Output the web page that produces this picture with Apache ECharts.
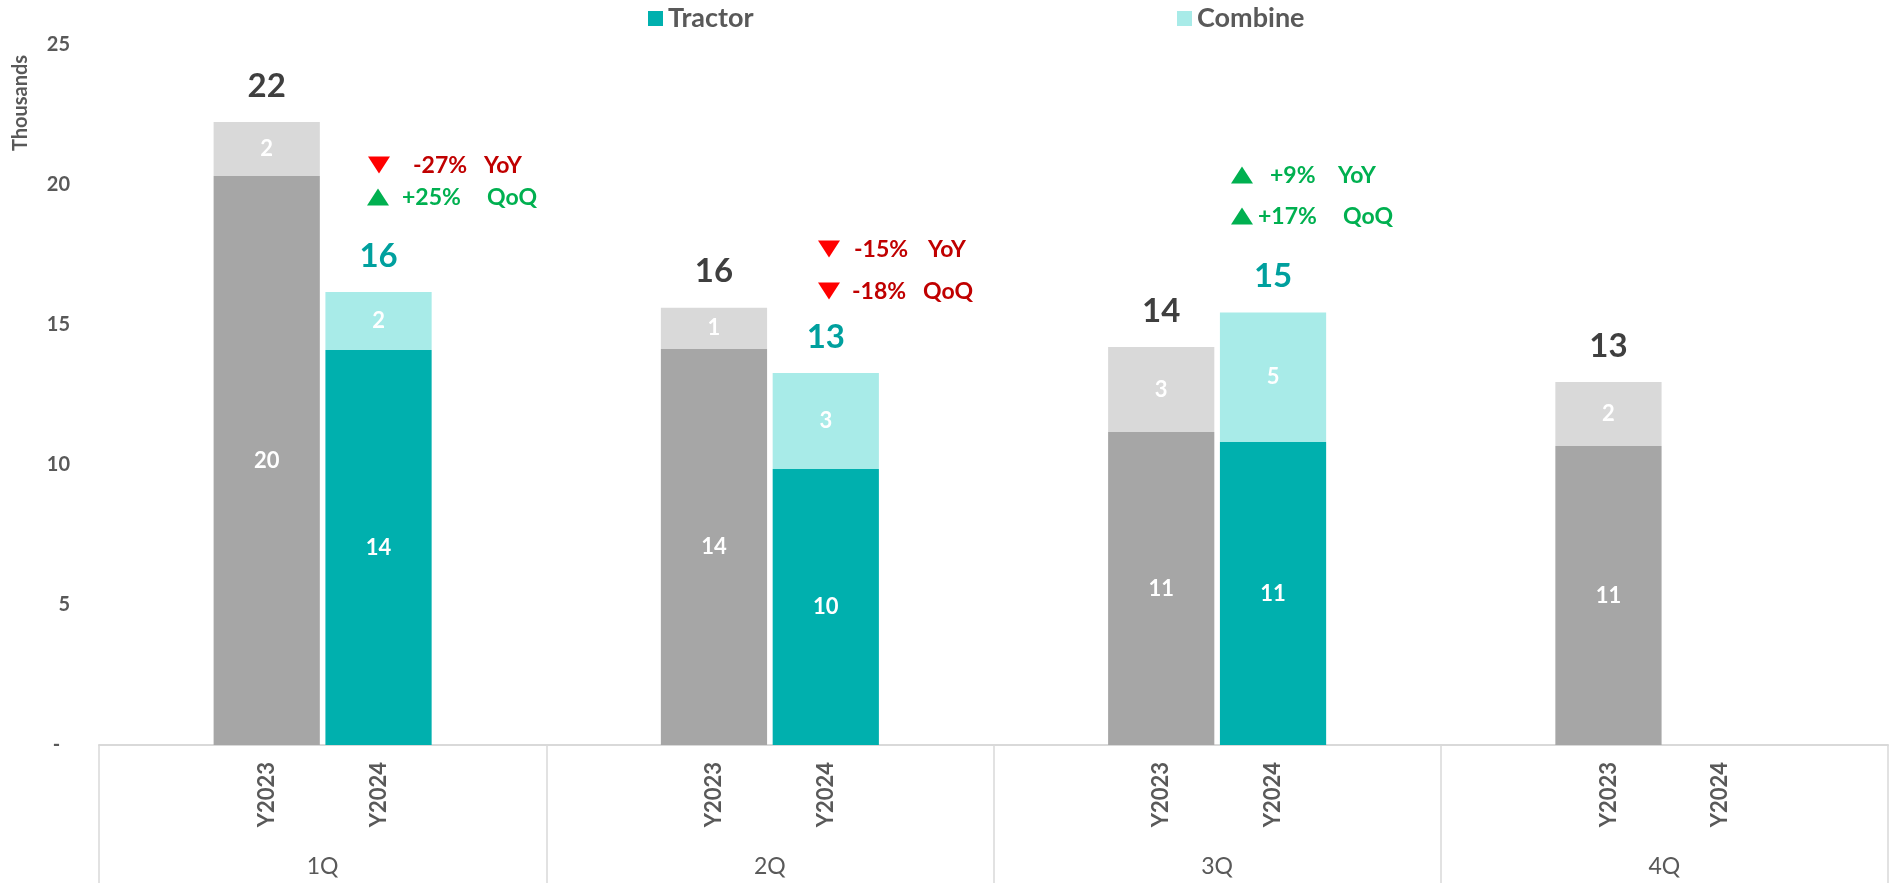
<!DOCTYPE html>
<html>
<head>
<meta charset="utf-8">
<script src="https://cdn.jsdelivr.net/npm/echarts@6/dist/echarts.min.js"></script>
<style>
  html, body { margin: 0; padding: 0; background: #fff; }
  #chart { width: 1892px; height: 883px; }
</style>
</head>
<body>
<div id="chart"></div>
<script>
// data (thousands of units)
const quarters = ['1Q', '2Q', '3Q', '4Q']
const years = ['Y2023', 'Y2024']
const tractor2023 = [20.32, 14.14, 11.18, 10.68]
const combine2023 = [1.93, 1.48, 3.03, 2.28]
const tractor2024 = [14.11, 9.86, 10.82, null]
const combine2024 = [2.07, 3.43, 4.63, null]
const yTickLabels = ['-', '5', '10', '15', '20', '25']
const notes = [
  { dir: 'down', pct: '-27%', tag: 'YoY' },
  { dir: 'up', pct: '+25%', tag: 'QoQ' },
  { dir: 'down', pct: '-15%', tag: 'YoY' },
  { dir: 'down', pct: '-18%', tag: 'QoQ' },
  { dir: 'up', pct: '+9%', tag: 'YoY' },
  { dir: 'up', pct: '+17%', tag: 'QoQ' }
]

const FONT = 'Lato'
const TEXT_GRAY = '#595959'
const TEAL = '#00B0AE'
const TEAL_LIGHT = '#A8EBE8'
const GRAY_DARK = '#A6A6A6'
const GRAY_LIGHT = '#D9D9D9'
const LINE = '#D9D9D9'

// every quarter = 4 slots: pad, Y2023, Y2024, pad
const slotIds = []
const tractorData = []
const combineData = []
const totalData = []
quarters.forEach((q, i) => {
  slotIds.push(q + '|')
  tractorData.push(null); combineData.push(null); totalData.push(null)

  slotIds.push(q + '|' + years[0])
  tractorData.push({ value: tractor2023[i], itemStyle: { color: GRAY_DARK } })
  combineData.push({ value: combine2023[i], itemStyle: { color: GRAY_LIGHT } })
  totalData.push({ value: tractor2023[i] + combine2023[i], label: { color: '#3F3F3F' } })

  slotIds.push(q + '|' + years[1])
  tractorData.push(tractor2024[i])
  combineData.push(combine2024[i])
  totalData.push(tractor2024[i] == null ? null
    : { value: tractor2024[i] + combine2024[i], label: { color: '#00A09E' } })

  slotIds.push(q + '|#')
  tractorData.push(null); combineData.push(null); totalData.push(null)
})

const segLabel = {
  show: true,
  position: 'inside',
  color: '#fff',
  fontFamily: FONT,
  fontWeight: 'bold',
  fontSize: 22,
  formatter: p => Math.round(p.value)
}

// annotation boxes: [triangle x, center y, pct x, tag x]
const noteLayout = [
  [368, 165, 413, 484],
  [367, 197, 402, 487],
  [818, 249, 854, 928],
  [818, 291, 852, 923],
  [1231, 175, 1270, 1338],
  [1231, 216, 1258, 1343]
]

const graphics = [{
  type: 'text',
  x: 21,
  y: 103,
  rotation: Math.PI / 2,
  style: {
    text: 'Thousands', fill: TEXT_GRAY, font: 'bold 20px ' + FONT,
    textAlign: 'center', textVerticalAlign: 'middle', align: 'center', verticalAlign: 'middle'
  }
}]
notes.forEach((n, i) => {
  const [tx, cy, px, gx] = noteLayout[i]
  const triColor = n.dir === 'down' ? '#FF0000' : '#00B050'
  const txtColor = n.dir === 'down' ? '#C00000' : '#00B050'
  const w = 22, h = 17
  const pts = n.dir === 'down'
    ? [[tx, cy - h / 2], [tx + w, cy - h / 2], [tx + w / 2, cy + h / 2]]
    : [[tx + w / 2, cy - h / 2], [tx + w, cy + h / 2], [tx, cy + h / 2]]
  graphics.push({ type: 'polygon', shape: { points: pts }, style: { fill: triColor } })
  ;[[px, n.pct], [gx, n.tag]].forEach(([x, t]) => {
    graphics.push({
      type: 'text', x: x, y: cy + 1,
      style: {
        text: t, fill: txtColor, font: 'bold 23px ' + FONT,
        textAlign: 'left', textVerticalAlign: 'middle', align: 'left', verticalAlign: 'middle'
      }
    })
  })
})

const chart = echarts.init(document.getElementById('chart'))
chart.setOption({
  animation: false,
  backgroundColor: '#fff',
  textStyle: { fontFamily: FONT },
  legend: [
    {
      data: ['Tractor'], left: 643, top: 0, icon: 'rect', itemWidth: 15, itemHeight: 15,
      textStyle: { color: TEXT_GRAY, fontFamily: FONT, fontWeight: 'bold', fontSize: 27 }
    },
    {
      data: ['Combine'], left: 1172, top: 0, icon: 'rect', itemWidth: 15, itemHeight: 15,
      textStyle: { color: TEXT_GRAY, fontFamily: FONT, fontWeight: 'bold', fontSize: 27 }
    }
  ],
  grid: { left: 99, right: 4, top: 45, bottom: 138, containLabel: false },
  xAxis: [
    {
      type: 'category',
      data: slotIds,
      axisLine: { show: true, lineStyle: { color: LINE, width: 2 } },
      axisTick: { show: false },
      axisLabel: {
        interval: 0,
        rotate: 90,
        margin: 17,
        color: TEXT_GRAY,
        fontFamily: FONT,
        fontWeight: 'bold',
        fontSize: 22,
        formatter: v => v.split('|')[1].replace('#', '')
      }
    },
    {
      type: 'category',
      data: quarters,
      position: 'bottom',
      axisLine: { show: false },
      axisTick: { show: true, interval: 0, length: 140, lineStyle: { color: LINE, width: 1.5 } },
      axisLabel: {
        interval: 0,
        margin: 110,
        color: TEXT_GRAY,
        fontFamily: FONT,
        fontSize: 23
      }
    }
  ],
  yAxis: {
    type: 'value',
    min: 0,
    max: 25,
    interval: 5,
    axisLine: { show: false },
    axisTick: { show: false },
    splitLine: { show: false },
    axisLabel: {
      margin: 29,
      color: TEXT_GRAY,
      fontFamily: FONT,
      fontWeight: 'bold',
      fontSize: 20,
      formatter: (v, idx) => yTickLabels[idx] === '-' ? '-  ' : yTickLabels[idx]
    }
  },
  series: [
    {
      name: 'Tractor',
      type: 'bar',
      stack: 'units',
      barWidth: '95%',
      silent: true,
      itemStyle: { color: TEAL },
      label: segLabel,
      data: tractorData
    },
    {
      name: 'Combine',
      type: 'bar',
      stack: 'units',
      barWidth: '95%',
      silent: true,
      itemStyle: { color: TEAL_LIGHT },
      label: segLabel,
      data: combineData
    },
    {
      type: 'scatter',
      symbolSize: 1,
      silent: true,
      z: 5,
      itemStyle: { color: 'rgba(0,0,0,0)', opacity: 1 },
      label: {
        show: true,
        position: 'top',
        distance: 19,
        opacity: 1,
        fontFamily: FONT,
        fontWeight: 'bold',
        fontSize: 33,
        formatter: p => Math.round(p.value)
      },
      data: totalData
    }
  ],
  graphic: graphics
})

window.addEventListener('resize', () => chart.resize())
</script>
</body>
</html>
